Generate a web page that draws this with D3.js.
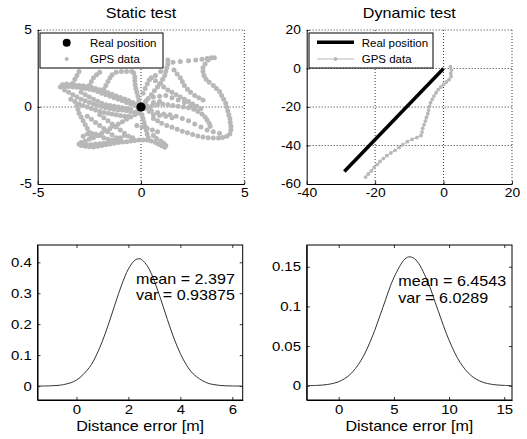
<!DOCTYPE html>
<html lang="en">
<head>
<meta charset="UTF-8">
<title>Static and dynamic GPS test</title>
<script src="https://d3js.org/d3.v7.min.js"></script>
<style>
  body { margin: 0; background: #fff; }
  svg { display: block; font-family: "Liberation Sans", Arial, sans-serif; }
  .grid line { stroke: #000; stroke-width: 0.8; stroke-dasharray: 1 2; }
</style>
</head>
<body>
<svg width="527" height="439"></svg>
<script>
// ---- data ----
const realStatic = [0, 0];

// static GPS fixes [east, north] in m
const staticGps = [
  [-3.9,1.3],[-3.7,1.32],[-3.5,1.33],[-3.3,1.3],[-3.1,1.28],[-2.9,1.25],[-2.7,1.2],[-2.5,1.15],[-2.3,1.1],[-2.1,1.0],
  [-1.9,0.9],[-1.7,0.8],[-1.5,0.7],[-1.3,0.6],[-1.1,0.5],[-0.9,0.4],[-0.7,0.3],[-0.5,0.2],[-0.3,0.1],[-0.1,0.05],
  [-3.7,1.1],[-3.5,0.95],[-3.3,0.8],[-3.1,0.65],[-2.9,0.5],[-2.7,0.4],[-2.5,0.3],[-2.3,0.2],[-2.1,0.1],[-1.9,0.0],
  [-1.7,-0.05],[-1.5,-0.1],[-1.3,-0.15],[-1.1,-0.2],[-0.9,-0.2],[-0.7,-0.25],[-0.5,-0.3],[-0.3,-0.35],[-0.1,-0.4],
  [-3.8,1.45],[-3.6,1.5],[-3.4,1.45],[-3.2,1.42],[-3.0,1.4],[-2.8,1.38],[-2.6,1.33],[-2.4,1.28],[-2.2,1.2],[-2.0,1.12],
  [-1.8,1.02],[-1.6,0.92],[-1.4,0.82],[-1.2,0.72],[-1.0,0.62],[-0.8,0.52],[-0.6,0.42],[-0.4,0.3],[-0.2,0.2],
  [-3.4,0.5],[-3.2,0.35],[-3.0,0.2],[-2.8,0.1],[-2.6,0.0],[-2.4,-0.1],[-2.2,-0.2],[-2.0,-0.3],[-1.8,-0.35],[-1.6,-0.4],
  [-1.4,-0.45],[-1.2,-0.5],[-1.0,-0.55],[-0.8,-0.6],[-0.6,-0.6],
  [-2.9,0.95],[-2.7,0.8],[-2.5,0.65],[-2.3,0.5],[-2.1,0.38],[-1.9,0.25],[-1.7,0.15],[-1.5,0.1],[-1.3,0.05],[-1.1,0.0],
  [-0.9,-0.05],[-0.7,-0.1],[-0.5,-0.15],
  [-3.3,1.55],[-3.2,1.8],[-3.1,2.05],[-3.0,2.3],
  [-2.5,1.4],[-2.4,1.65],[-2.3,1.9],[-2.15,2.1],[-2.0,2.25],
  [-1.8,1.15],[-1.7,1.4],[-1.6,1.65],[-1.5,1.9],[-1.4,2.1],
  [-1.2,2.25],[-0.95,2.3],[-0.7,2.3],[-0.45,2.3],
  [-0.35,2.2],[-0.3,1.95],[-0.3,1.7],[-0.28,1.45],[-0.25,1.2],[-0.2,0.95],[-0.15,0.7],[-0.1,0.45],
  [0.1,0.9],[0.2,1.2],[0.3,1.5],[0.4,1.75],[0.7,2.05],[0.95,2.3],
  [0.2,0.3],[0.35,0.55],[0.5,0.8],[0.65,1.05],[0.8,1.3],[0.95,1.55],[1.05,1.8],[1.15,2.05],[1.2,2.3],[1.25,2.55],[1.3,2.8],[1.3,3.05],
  [1.55,2.9],[1.9,2.95],[2.3,3.0],[2.65,3.05],[2.95,3.1],[3.2,3.15],[3.4,3.2],[3.55,3.2],
  [3.25,3.05],[3.1,2.8],[3.0,2.55],[3.0,2.3],[3.05,2.05],[3.15,1.8],[3.3,1.6],[3.5,1.4],[3.65,1.2],[3.8,1.0],
  [3.9,0.75],[4.0,0.5],[4.1,0.25],[4.15,0.0],[4.2,-0.25],[4.25,-0.5],[4.3,-0.75],[4.32,-1.0],[4.35,-1.25],[4.35,-1.5],[4.3,-1.75],
  [4.15,-1.9],[3.95,-1.98],[3.75,-2.02],[3.5,-2.02],[3.25,-2.0],[3.0,-1.95],[2.75,-1.88],[2.5,-1.78],[2.25,-1.68],
  [2.0,-1.58],[1.75,-1.45],[1.5,-1.32],[1.25,-1.2],[1.0,-1.05],[0.8,-0.9],[0.6,-0.75],
  [0.3,0.05],[0.55,0.1],[0.8,0.15],[1.05,0.2],[1.3,0.15],[1.55,0.1],[1.8,0.05],[2.05,0.0],[2.3,-0.05],[2.55,-0.15],
  [2.75,-0.3],[2.95,-0.45],[3.1,-0.65],[3.2,-0.85],[3.3,-1.05],[3.35,-1.25],
  [0.5,1.9],[0.7,1.7],[0.9,1.5],[1.1,1.3],[1.3,1.1],[1.5,0.95],[1.7,0.8],[1.9,0.65],[2.1,0.5],[2.3,0.35],[2.5,0.2],[2.7,0.05],[2.9,-0.1],
  [1.6,2.4],[1.75,2.15],[1.9,1.9],[2.0,1.65],[2.1,1.4],[2.25,1.15],[2.4,0.95],[2.6,0.75],[2.8,0.6],[3.0,0.45],
  [0.6,0.65],[0.9,0.7],[1.2,0.75],[1.5,0.6],[1.8,0.45],[2.1,0.3],[2.4,0.1],[2.6,-0.05],
  [0.2,-0.1],[0.4,-0.05],[0.15,0.15],[-0.15,-0.2],[0.25,0.4],[0.6,0.3],[0.9,0.35],
  [0.5,-0.25],[0.8,-0.35],[1.1,-0.45],[1.4,-0.5],[1.7,-0.6],[2.0,-0.75],[2.3,-0.9],[2.6,-1.1],[2.9,-1.3],[3.2,-1.5],
  [3.5,-1.6],[3.8,-1.7],
  [0.05,-0.5],[0.1,-0.75],[0.15,-1.0],[0.2,-1.25],[0.25,-1.5],[0.3,-1.75],[0.35,-2.0],
  [-0.2,-1.2],[0.05,-1.3],[0.3,-1.4],[0.55,-1.5],[0.8,-1.6],[0.6,-1.85],[0.75,-2.05],[0.95,-2.2],[1.1,-2.35],[1.2,-2.5],
  [-0.3,-0.5],[-0.5,-0.65],[-0.7,-0.8],[-0.9,-0.95],[-1.1,-1.1],[-1.3,-1.25],[-1.5,-1.4],[-1.7,-1.55],[-1.9,-1.7],
  [-2.1,-1.85],[-2.3,-2.0],[-2.5,-2.1],[-2.7,-2.2],[-2.9,-2.3],[-3.0,-2.4],
  [-2.6,-0.6],[-2.4,-0.8],[-2.2,-1.0],[-2.0,-1.2],[-1.8,-1.4],[-1.6,-1.6],[-1.4,-1.8],[-1.2,-2.0],[-1.0,-2.1],
  [-2.8,-1.9],[-2.6,-1.75],[-2.4,-1.7],[-2.2,-1.75],[-2.0,-1.85],[-1.8,-2.0],[-1.6,-2.1],[-1.4,-2.15],[-1.2,-2.15],
  [-1.0,-2.0],[-0.8,-1.85],
  [-2.9,-2.5],[-2.7,-2.55],[-2.5,-2.58],[-2.3,-2.6],[-2.1,-2.55],[-1.9,-2.5],[-1.7,-2.45],[-1.5,-2.4],[-1.3,-2.35],
  [-1.1,-2.3],[-0.9,-2.28],[-0.7,-2.25],[-0.5,-2.2],[-0.3,-2.18],[-0.1,-2.15],[0.1,-2.15],[0.3,-2.15],[0.5,-2.2],
  [0.7,-2.3],[0.85,-2.42],[1.0,-2.52],[1.15,-2.62],
  [-2.8,-2.4],[-2.6,-2.45],[-2.4,-2.45],[-2.2,-2.4],[-2.0,-2.38],[-1.8,-2.35],[-1.6,-2.3],
  [-3.1,0.1],[-3.05,-0.15],[-3.0,-0.4],[-2.9,-0.65],[-2.8,-0.9],[-2.7,-1.15],[-2.6,-1.4],[-2.5,-1.65],[-2.4,-1.9],
  [-2.0,-0.5],[-1.8,-0.7],[-1.6,-0.9],[-1.4,-1.1],[-1.2,-1.3],[-1.0,-1.5],[-0.8,-1.7],[-0.6,-1.9],[-0.4,-2.0],
  [0.4,-0.3],[0.6,-0.5],[0.9,-0.55],[1.2,-0.6],[1.5,-0.7]
];

// dynamic test: true track and GPS track
const realDynamic = [[0, 0], [-29, -53.5]];
const dynamicGps = [
  [2.0,0.9],[2.3,-0.8],[2.1,-2.5],[2.2,-4.2],[1.6,-5.8],[0.8,-7.0],[0.0,-8.3],[-0.8,-9.6],[-1.6,-11.0],[-2.2,-12.6],
  [-2.8,-14.3],[-3.3,-16.0],[-3.8,-17.8],[-4.1,-19.7],[-4.4,-21.6],[-4.6,-23.5],[-5.0,-25.4],[-5.3,-27.3],[-5.7,-29.2],
  [-6.1,-31.1],[-6.3,-33.0],[-6.6,-34.8],[-7.8,-35.9],[-9.2,-36.8],[-10.6,-38.0],[-11.9,-39.6],[-13.0,-41.0],
  [-14.2,-42.5],[-15.4,-43.9],[-16.6,-45.3],[-17.6,-46.8],[-18.6,-48.3],[-19.4,-49.9],[-20.3,-51.5],[-21.1,-53.2],
  [-22.0,-54.8],[-22.8,-56.4]
];

// distance error densities
const errStaticX = [-1.5,-1,-0.5,0,0.5,0.75,1,1.25,1.5,1.75,2,2.25,2.4,2.5,2.75,3,3.25,3.5,3.75,4,4.25,4.5,5,5.5,6,6.4];
const errStaticY = [0.0001,0.0009,0.0047,0.0193,0.0605,0.0971,0.1456,0.2043,0.2682,0.3294,0.3786,0.4070,0.4117,0.4094,
                    0.3853,0.3392,0.2794,0.2154,0.1553,0.1048,0.0661,0.0390,0.0112,0.0024,0.0004,0.0001];
const errDynX = [-2.9,-2,-1,0,1,2,3,4,5,6,6.45,7,8,9,10,11,12,13,14,15,15.7];
const errDynY = [0.0001,0.0004,0.0016,0.0051,0.0138,0.0314,0.0604,0.0986,0.1363,0.1597,0.1625,0.1585,0.1333,0.0949,
                 0.0573,0.0293,0.0127,0.0047,0.0015,0.0004,0.0001];

const staticTicks = [-5, 0, 5];
const dynXTicks = [-40, -20, 0, 20];
const dynYTicks = [-60, -40, -20, 0, 20];
const errStaticXTicks = [0, 2, 4, 6];
const errStaticYTicks = [0, 0.1, 0.2, 0.3, 0.4];
const errDynXTicks = [0, 5, 10, 15];
const errDynYTicks = [0, 0.05, 0.1, 0.15];

const statsStatic = ["mean = 2.397", "var = 0.93875"];
const statsDynamic = ["mean = 6.4543", "var = 6.0289"];

// ---- drawing ----
const svg = d3.select("svg");
const SX = 1.15;           // the source figure is stretched a little sideways
const GPS_GREY = "#b8b8b8";

function label(g, x, y, str, size, anchor) {
  return g.append("text")
    .attr("transform", `translate(${x},${y}) scale(${SX},1)`)
    .attr("text-anchor", anchor || "start")
    .attr("font-size", size)
    .attr("fill", "#000")
    .text(str);
}

function panel(o) {
  const g = svg.append("g");
  const x = d3.scaleLinear().domain(o.xDomain).range([o.left, o.right]);
  const y = d3.scaleLinear().domain(o.yDomain).range([o.bottom, o.top]);

  if (o.grid) {
    const grid = g.append("g").attr("class", "grid");
    grid.selectAll(".gx").data(o.xTicks.filter(d => d !== o.xDomain[0])).enter()
      .append("line").attr("x1", d => x(d)).attr("x2", d => x(d)).attr("y1", o.top).attr("y2", o.bottom);
    grid.selectAll(".gy").data(o.yTicks.filter(d => d !== o.yDomain[0])).enter()
      .append("line").attr("y1", d => y(d)).attr("y2", d => y(d)).attr("x1", o.left).attr("x2", o.right);
  }

  const fmt = d => String(d);
  const xa = g.append("g").attr("transform", `translate(0,${o.bottom})`)
    .call(d3.axisBottom(x).tickValues(o.xTicks).tickSize(-3).tickSizeOuter(0).tickPadding(o.xPad).tickFormat(fmt));
  const ya = g.append("g").attr("transform", `translate(${o.left},0)`)
    .call(d3.axisLeft(y).tickValues(o.yTicks).tickSize(-3).tickSizeOuter(0).tickPadding(o.yPad).tickFormat(fmt));

  [xa, ya].forEach(a => {
    a.attr("font-family", null).attr("font-size", o.tickFont);
    a.selectAll("text").attr("fill", "#000").attr("transform", `scale(${SX},1)`);
    a.selectAll("line").attr("stroke", "#000").attr("stroke-width", 0.8);
    a.select(".domain").attr("stroke", "#000").attr("stroke-width", 1);
  });

  if (o.box) {
    g.append("g").attr("transform", `translate(0,${o.top})`)
      .call(d3.axisTop(x).tickValues(o.xTicks).tickSize(-3).tickSizeOuter(0).tickFormat(""))
      .call(a => a.selectAll("line").attr("stroke", "#000").attr("stroke-width", 0.8))
      .call(a => a.select(".domain").remove());
    g.append("g").attr("transform", `translate(${o.right},0)`)
      .call(d3.axisRight(y).tickValues(o.yTicks).tickSize(-3).tickSizeOuter(0).tickFormat(""))
      .call(a => a.selectAll("line").attr("stroke", "#000").attr("stroke-width", 0.8))
      .call(a => a.select(".domain").remove());
    g.append("rect")
      .attr("x", o.left).attr("y", o.top)
      .attr("width", o.right - o.left).attr("height", o.bottom - o.top)
      .attr("fill", "none").attr("stroke", "#000").attr("stroke-width", 1);
  }

  if (o.title) label(g, (o.left + o.right) / 2, o.top - 12, o.title, 14, "middle");
  if (o.xlabel) label(g, (o.left + o.right) / 2, o.bottom + 31, o.xlabel, 14, "middle");

  return {g, x, y};
}

// Static test
const p1 = panel({left: 37.7, right: 244.3, top: 30, bottom: 184,
  xDomain: [-5, 5], yDomain: [-5, 5], xTicks: staticTicks, yTicks: staticTicks,
  grid: true, xPad: 4, yPad: 5, tickFont: 12, title: "Static test"});

p1.g.append("g").selectAll("circle").data(staticGps).enter()
  .append("circle")
  .attr("cx", d => p1.x(d[0])).attr("cy", d => p1.y(d[1]))
  .attr("r", 2.5).attr("fill", GPS_GREY);
p1.g.append("circle")
  .attr("cx", p1.x(realStatic[0])).attr("cy", p1.y(realStatic[1]))
  .attr("r", 4.6).attr("fill", "#000");

// legend
const lg1 = p1.g.append("g");
lg1.append("rect").attr("x", 40).attr("y", 33).attr("width", 123).attr("height", 35)
  .attr("fill", "#fff").attr("stroke", "#000").attr("stroke-width", 1);
lg1.append("circle").attr("cx", 66.7).attr("cy", 42.7).attr("r", 4).attr("fill", "#000");
lg1.append("circle").attr("cx", 66.7).attr("cy", 59).attr("r", 2).attr("fill", GPS_GREY);
label(lg1, 90, 46.5, "Real position", 10);
label(lg1, 90, 62.5, "GPS data", 10);

// Dynamic test
const p2 = panel({left: 306.7, right: 512, top: 30, bottom: 184,
  xDomain: [-40, 20], yDomain: [-60, 20], xTicks: dynXTicks, yTicks: dynYTicks,
  grid: true, xPad: 4, yPad: 5, tickFont: 12, title: "Dynamic test"});

const line2 = d3.line().x(d => p2.x(d[0])).y(d => p2.y(d[1]));
p2.g.append("path").attr("d", line2(dynamicGps))
  .attr("fill", "none").attr("stroke", GPS_GREY).attr("stroke-width", 1);
p2.g.append("g").selectAll("circle").data(dynamicGps).enter()
  .append("circle")
  .attr("cx", d => p2.x(d[0])).attr("cy", d => p2.y(d[1]))
  .attr("r", 1.9).attr("fill", GPS_GREY);
p2.g.append("path").attr("d", line2(realDynamic))
  .attr("fill", "none").attr("stroke", "#000").attr("stroke-width", 3.5);

const lg2 = p2.g.append("g");
lg2.append("rect").attr("x", 309).attr("y", 33).attr("width", 124).attr("height", 35)
  .attr("fill", "#fff").attr("stroke", "#000").attr("stroke-width", 1);
lg2.append("line").attr("x1", 317).attr("x2", 354).attr("y1", 42.3).attr("y2", 42.3)
  .attr("stroke", "#000").attr("stroke-width", 3.5);
lg2.append("line").attr("x1", 317).attr("x2", 354).attr("y1", 59).attr("y2", 59)
  .attr("stroke", GPS_GREY).attr("stroke-width", 1);
lg2.append("circle").attr("cx", 335.5).attr("cy", 59).attr("r", 1.9).attr("fill", GPS_GREY);
label(lg2, 361.7, 46.5, "Real position", 10);
label(lg2, 361.7, 62.5, "GPS data", 10);

// Distance error densities
const densityLine = (p) => d3.line().curve(d3.curveCatmullRom).x(d => p.x(d[0])).y(d => p.y(d[1]));

const p3 = panel({left: 37.5, right: 242.7, top: 245, bottom: 400,
  xDomain: [-1.5, 6.4], yDomain: [-0.045, 0.456], xTicks: errStaticXTicks, yTicks: errStaticYTicks,
  box: true, xPad: 5, yPad: 5, tickFont: 13, xlabel: "Distance error [m]"});
p3.g.append("path").attr("d", densityLine(p3)(errStaticX.map((v, i) => [v, errStaticY[i]])))
  .attr("fill", "none").attr("stroke", "#333").attr("stroke-width", 1);
label(p3.g, 136, 284, statsStatic[0], 14);
label(p3.g, 136, 299.5, statsStatic[1], 14);

const p4 = panel({left: 306.7, right: 512, top: 245, bottom: 400,
  xDomain: [-2.9, 15.7], yDomain: [-0.018, 0.1774], xTicks: errDynXTicks, yTicks: errDynYTicks,
  box: true, xPad: 5, yPad: 5, tickFont: 13, xlabel: "Distance error [m]"});
p4.g.append("path").attr("d", densityLine(p4)(errDynX.map((v, i) => [v, errDynY[i]])))
  .attr("fill", "none").attr("stroke", "#333").attr("stroke-width", 1);
label(p4.g, 398.3, 286, statsDynamic[0], 14);
label(p4.g, 398.3, 303, statsDynamic[1], 14);
</script>
</body>
</html>
